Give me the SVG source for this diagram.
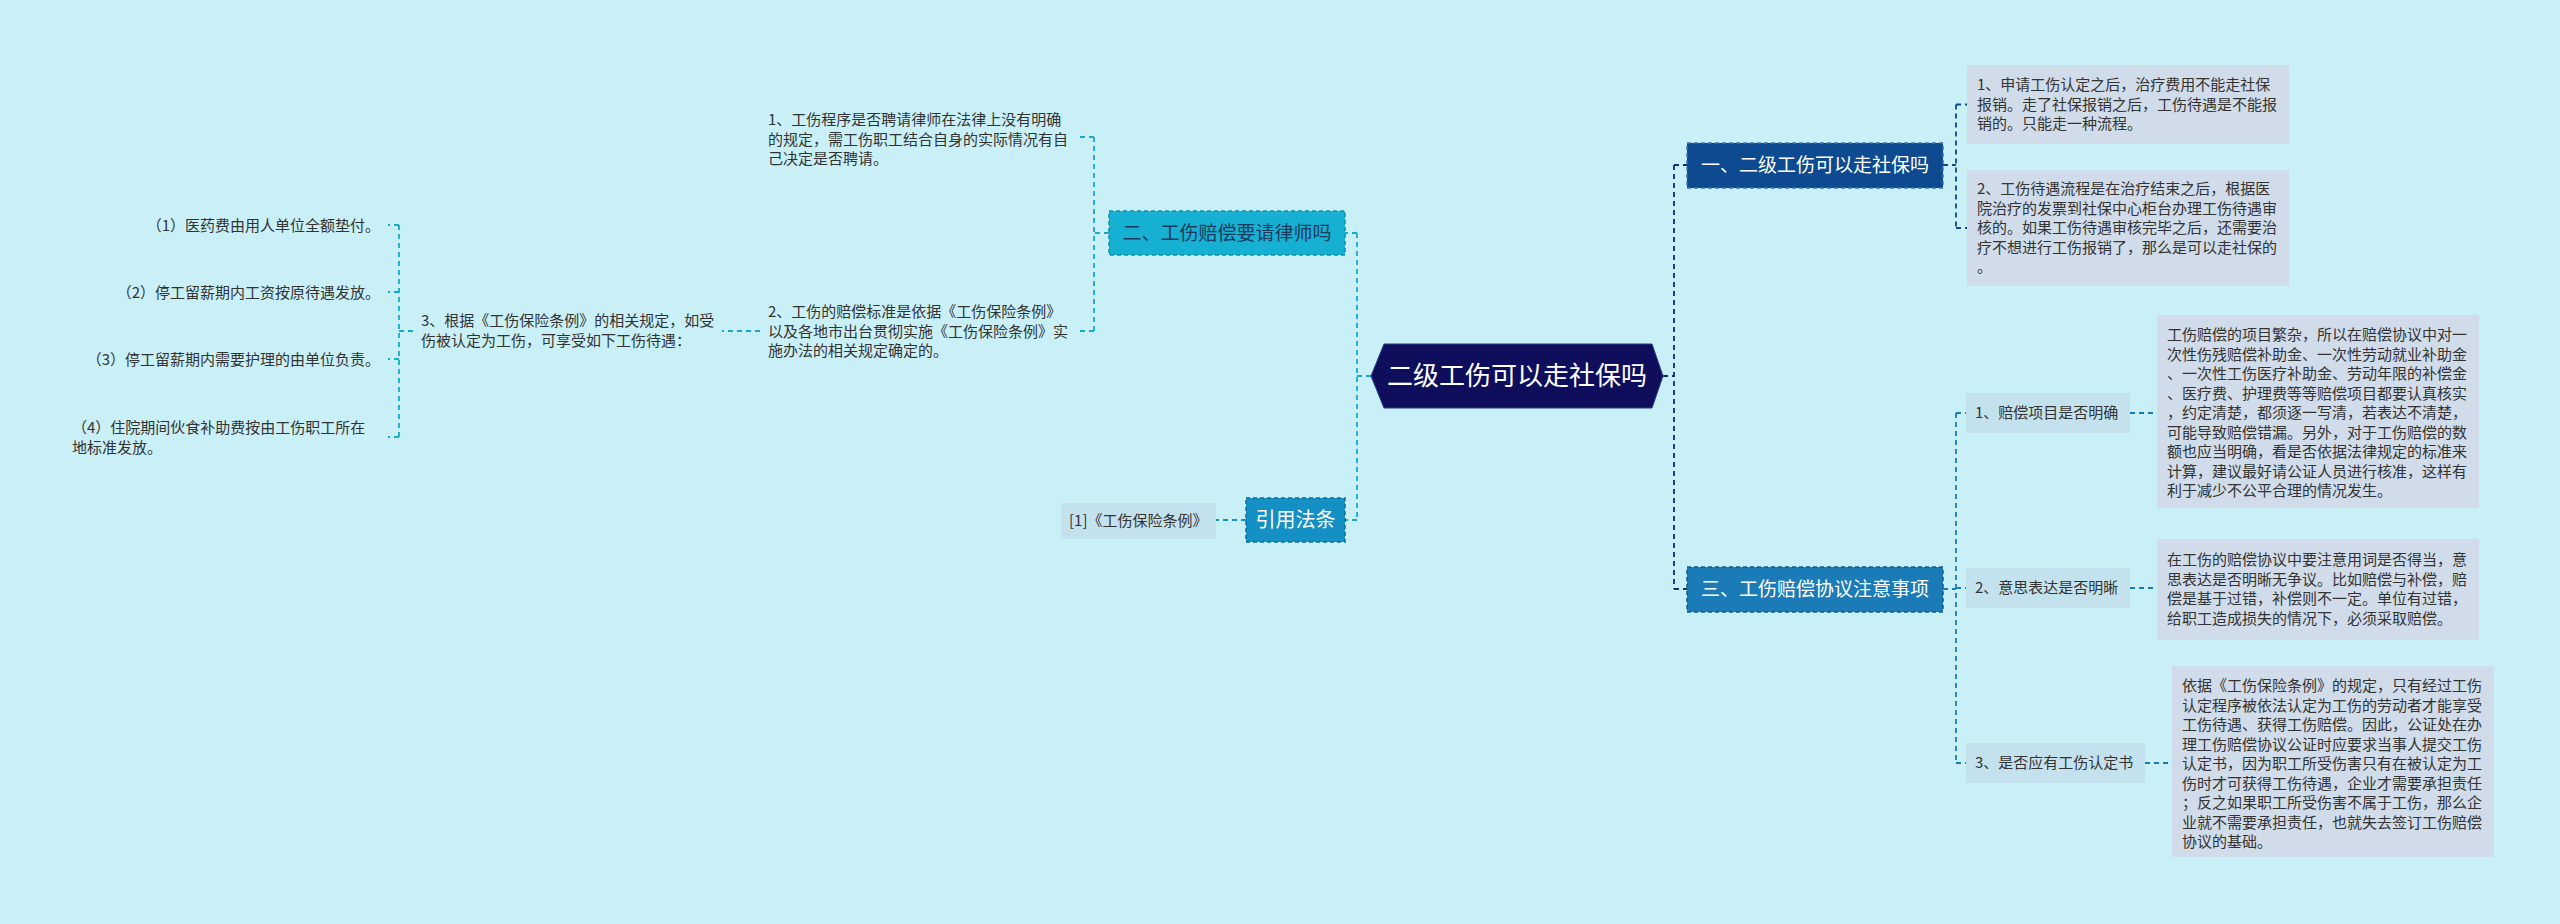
<svg xmlns="http://www.w3.org/2000/svg" width="2560" height="924" viewBox="0 0 2560 924">
<style>
text{font-family:"Noto Sans CJK SC","Liberation Sans",sans-serif;}
.bg{fill:#c9eff7;}
.t15{font-size:15px;fill:#333;}
.lbl{fill:#c4e2ee;}
.det{fill:#d0dcea;}
.main{font-size:19px;}
.c{fill:none;stroke-width:1.8;stroke-dasharray:5 4;}
.cn{stroke:#12306f;}
.ca{stroke:#0d4a8f;}
.cb{stroke:#1a7bb6;}
.ct{stroke:#18a9cc;}
.cr{stroke:#1590c4;}
</style>
<rect class="bg" x="0" y="0" width="2560" height="924"/>

<g id="connectors">
  <path class="c cn" d="M1663 376 H1674 M1674 165 V589 M1674 165 H1687 M1674 589 H1687"/>
  <path class="c ca" d="M1943 165 H1956 M1956 104.5 V228 M1956 104.5 H1967 M1956 228 H1967"/>
  <path class="c cb" d="M1943 589 H1956 M1956 413 V763 M1956 413 H1966 M1956 588 H1966 M1956 763 H1966 M2130 413 H2157 M2130 588 H2157 M2145 763 H2172"/>
  <path class="c ct" d="M1371 376 H1357 M1357 233 V520 M1357 233 H1345 M1357 520 H1345"/>
  <path class="c ct" d="M1109 233 H1094 M1094 137 V331 M1094 137 H1080 M1094 331 H1080 M760 331 H722"/>
  <path class="c ct" d="M413 331 H399 M399 225 V437 M399 225 H388 M399 292 H388 M399 359 H388 M399 437 H388"/>
  <path class="c cr" d="M1246 520 H1216"/>
</g>

<g id="center">
  <polygon points="1371,376 1384,344 1652,344 1663,376 1652,408 1384,408" fill="#0e0e5c" stroke="#2a3a8a" stroke-width="1"/>
  <text x="1517" y="385" font-size="26" fill="#ffffff" text-anchor="middle">二级工伤可以走社保吗</text>
</g>

<g id="nodeA">
  <rect x="1687" y="143" width="256" height="45" fill="#0d4a8f" stroke="#3d72b8" stroke-width="1.5" stroke-dasharray="4 3"/>
  <text class="main" x="1815" y="172" fill="#ffffff" text-anchor="middle">一、二级工伤可以走社保吗</text>
</g>
<g id="nodeA1">
  <rect class="det" x="1967" y="65" width="322" height="79"/>
  <text class="t15"><tspan x="1977" y="90">1、申请工伤认定之后，治疗费用不能走社保</tspan><tspan x="1977" y="109.5">报销。走了社保报销之后，工伤待遇是不能报</tspan><tspan x="1977" y="129">销的。只能走一种流程。</tspan></text>
</g>
<g id="nodeA2">
  <rect class="det" x="1967" y="170" width="322" height="116"/>
  <text class="t15"><tspan x="1977" y="194">2、工伤待遇流程是在治疗结束之后，根据医</tspan><tspan x="1977" y="213.5">院治疗的发票到社保中心柜台办理工伤待遇审</tspan><tspan x="1977" y="233">核的。如果工伤待遇审核完毕之后，还需要治</tspan><tspan x="1977" y="252.5">疗不想进行工伤报销了，那么是可以走社保的</tspan><tspan x="1977" y="272">。</tspan></text>
</g>

<g id="nodeB">
  <rect x="1687" y="567" width="256" height="45" fill="#1a7bb6" stroke="#0f5f95" stroke-width="1.5" stroke-dasharray="4 3"/>
  <text class="main" x="1815" y="596" fill="#ffffff" text-anchor="middle">三、工伤赔偿协议注意事项</text>
</g>
<g id="nodeB1">
  <rect class="lbl" x="1966" y="393" width="164" height="40"/>
  <text class="t15" x="1975" y="418">1、赔偿项目是否明确</text>
</g>
<g id="nodeB1d">
  <rect class="det" x="2157" y="315" width="322" height="193"/>
  <text class="t15"><tspan x="2167" y="340">工伤赔偿的项目繁杂，所以在赔偿协议中对一</tspan><tspan x="2167" y="359.5">次性伤残赔偿补助金、一次性劳动就业补助金</tspan><tspan x="2167" y="379">、一次性工伤医疗补助金、劳动年限的补偿金</tspan><tspan x="2167" y="398.5">、医疗费、护理费等等赔偿项目都要认真核实</tspan><tspan x="2167" y="418">，约定清楚，都须逐一写清，若表达不清楚，</tspan><tspan x="2167" y="437.5">可能导致赔偿错漏。另外，对于工伤赔偿的数</tspan><tspan x="2167" y="457">额也应当明确，看是否依据法律规定的标准来</tspan><tspan x="2167" y="476.5">计算，建议最好请公证人员进行核准，这样有</tspan><tspan x="2167" y="496">利于减少不公平合理的情况发生。</tspan></text>
</g>
<g id="nodeB2">
  <rect class="lbl" x="1966" y="568" width="164" height="40"/>
  <text class="t15" x="1975" y="593">2、意思表达是否明晰</text>
</g>
<g id="nodeB2d">
  <rect class="det" x="2157" y="539" width="322" height="101"/>
  <text class="t15"><tspan x="2167" y="565">在工伤的赔偿协议中要注意用词是否得当，意</tspan><tspan x="2167" y="584.5">思表达是否明晰无争议。比如赔偿与补偿，赔</tspan><tspan x="2167" y="604">偿是基于过错，补偿则不一定。单位有过错，</tspan><tspan x="2167" y="623.5">给职工造成损失的情况下，必须采取赔偿。</tspan></text>
</g>
<g id="nodeB3">
  <rect class="lbl" x="1966" y="743" width="179" height="40"/>
  <text class="t15" x="1975" y="768">3、是否应有工伤认定书</text>
</g>
<g id="nodeB3d">
  <rect class="det" x="2172" y="666" width="322" height="191"/>
  <text class="t15"><tspan x="2182" y="691">依据《工伤保险条例》的规定，只有经过工伤</tspan><tspan x="2182" y="710.5">认定程序被依法认定为工伤的劳动者才能享受</tspan><tspan x="2182" y="730">工伤待遇、获得工伤赔偿。因此，公证处在办</tspan><tspan x="2182" y="749.5">理工伤赔偿协议公证时应要求当事人提交工伤</tspan><tspan x="2182" y="769">认定书，因为职工所受伤害只有在被认定为工</tspan><tspan x="2182" y="788.5">伤时才可获得工伤待遇，企业才需要承担责任</tspan><tspan x="2182" y="808">；反之如果职工所受伤害不属于工伤，那么企</tspan><tspan x="2182" y="827.5">业就不需要承担责任，也就失去签订工伤赔偿</tspan><tspan x="2182" y="847">协议的基础。</tspan></text>
</g>

<g id="nodeC">
  <rect x="1109" y="211" width="236" height="44" fill="#16b0d2" stroke="#0f8fb0" stroke-width="1.5" stroke-dasharray="4 3"/>
  <text class="main" x="1227" y="240" fill="#1a3b5c" text-anchor="middle">二、工伤赔偿要请律师吗</text>
</g>
<g id="nodeC1">
  <text class="t15"><tspan x="768" y="125">1、工伤程序是否聘请律师在法律上没有明确</tspan><tspan x="768" y="144.5">的规定，需工伤职工结合自身的实际情况有自</tspan><tspan x="768" y="164">己决定是否聘请。</tspan></text>
</g>
<g id="nodeC2">
  <text class="t15"><tspan x="768" y="317">2、工伤的赔偿标准是依据《工伤保险条例》</tspan><tspan x="768" y="336.5">以及各地市出台贯彻实施《工伤保险条例》实</tspan><tspan x="768" y="356">施办法的相关规定确定的。</tspan></text>
</g>
<g id="nodeC2a">
  <text class="t15"><tspan x="421" y="326">3、根据《工伤保险条例》的相关规定，如受</tspan><tspan x="421" y="345.5">伤被认定为工伤，可享受如下工伤待遇：</tspan></text>
</g>
<g id="item1">
  <text class="t15" x="380" y="231" text-anchor="end">（1）医药费由用人单位全额垫付。</text>
</g>
<g id="item2">
  <text class="t15" x="380" y="298" text-anchor="end">（2）停工留薪期内工资按原待遇发放。</text>
</g>
<g id="item3">
  <text class="t15" x="380" y="365" text-anchor="end">（3）停工留薪期内需要护理的由单位负责。</text>
</g>
<g id="item4">
  <text class="t15"><tspan x="72" y="433">（4）住院期间伙食补助费按由工伤职工所在</tspan><tspan x="72" y="452.5">地标准发放。</tspan></text>
</g>

<g id="nodeRef">
  <rect x="1246" y="498" width="99" height="44" fill="#1590c4" stroke="#0d6f9e" stroke-width="1.5" stroke-dasharray="4 3"/>
  <text x="1295.5" y="527" font-size="20" fill="#ffffff" text-anchor="middle">引用法条</text>
</g>
<g id="nodeRef1">
  <rect class="lbl" x="1061" y="503" width="155" height="36"/>
  <text class="t15" x="1069" y="526">[1]《工伤保险条例》</text>
</g>
</svg>
